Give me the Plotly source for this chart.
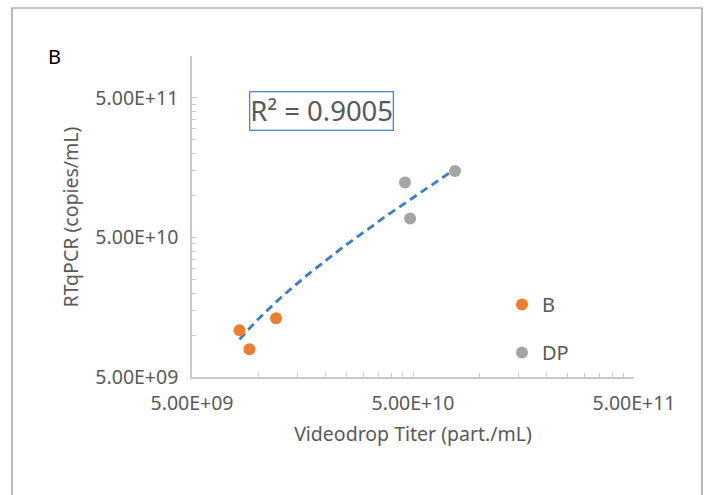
import numpy as np
import plotly.graph_objects as go

# ---- data ----
b_x = [8.2e9, 9.1e9, 1.2e10]
b_y = [1.08e10, 7.9e9, 1.32e10]
dp_x = [4.6e10, 4.85e10, 7.75e10]
dp_y = [1.24e11, 6.85e10, 1.5e11]

x_ticks = [5e9, 5e10, 5e11]
x_tick_labels = ["5.00E+09", "5.00E+10", "5.00E+11"]
y_ticks = [5e9, 5e10, 5e11]
y_tick_labels = ["5.00E+09", "5.00E+10", "5.00E+11"]
x_title = "Videodrop Titer (part./mL)"
y_title = "RTqPCR (copies/mL)"
r2_label = "R² = 0.9005"
panel_label = "B"

# ---- linear trendline (as Excel) over all points ----
all_x = np.array(b_x + dp_x)
all_y = np.array(b_y + dp_y)
slope, intercept = np.polyfit(all_x, all_y, 1)
fit_x = np.logspace(np.log10(all_x.min()), np.log10(all_x.max()), 80)
fit_y = slope * fit_x + intercept

minor_x = [5e9 * k * 10 ** n for n in range(2) for k in range(2, 10)]
minor_y = [5e9 * k * 10 ** n for n in range(2) for k in range(2, 10)] + [1e12]

GREY_TXT = "#595959"
AXIS = "#c9c9c9"
FONT = "Noto Sans"

fig = go.Figure()
fig.add_trace(go.Scatter(
    x=fit_x, y=fit_y, mode="lines", showlegend=False, hoverinfo="skip",
    line=dict(color="#3b7bc8", width=2.8, dash="8px,5px"),
))
fig.add_trace(go.Scatter(
    x=b_x, y=b_y, mode="markers", name="B", legendgroup="b",
    marker=dict(color="#ED7D31", size=12, line=dict(width=0)),
))
fig.add_trace(go.Scatter(
    x=dp_x, y=dp_y, mode="markers", name="DP", legendgroup="dp",
    marker=dict(color="#A5A5A5", size=12, line=dict(width=0)),
))

axis_common = dict(
    type="log",
    showgrid=False, zeroline=False,
    showline=True, linecolor=AXIS, linewidth=1.5,
    ticks="inside", ticklen=5, tickcolor=AXIS, tickwidth=1.2,
    tickmode="array",
    tickfont=dict(family=FONT, size=19.5, color=GREY_TXT),
    ticklabelstandoff=8,
)

fig.update_xaxes(
    **axis_common,
    range=[np.log10(5e9), np.log10(5e11)],
    tickvals=x_ticks, ticktext=x_tick_labels,
    minor=dict(tickmode="array", tickvals=minor_x, ticks="inside",
               ticklen=4, tickcolor=AXIS, tickwidth=1.2),
    title=dict(text=x_title,
               font=dict(family=FONT, size=19.5, color=GREY_TXT), standoff=12),
)
fig.update_yaxes(
    **axis_common,
    range=[np.log10(5e9), np.log10(1e12)],
    tickvals=y_ticks, ticktext=y_tick_labels,
    minor=dict(tickmode="array", tickvals=minor_y, ticks="inside",
               ticklen=4, tickcolor=AXIS, tickwidth=1.2),
)

fig.add_annotation(
    text=y_title, xref="paper", yref="paper", x=(70 - 192) / 442, y=0.5,
    xanchor="center", yanchor="middle", textangle=-90, showarrow=False,
    font=dict(family=FONT, size=19.5, color=GREY_TXT),
)
fig.add_annotation(
    text=r2_label, xref="paper", yref="paper", x=(249 - 192) / 442, y=(377 - 91) / 321,
    xanchor="left", yanchor="top", showarrow=False,
    font=dict(family=FONT, size=27.5, color=GREY_TXT),
    bordercolor="#4a86c8", borderwidth=1.3, borderpad=0, bgcolor="white",
)
fig.add_annotation(
    text=panel_label, xref="paper", yref="paper", x=(46 - 192) / 442, y=(377 - 41) / 321,
    xanchor="left", yanchor="top", showarrow=False,
    font=dict(family=FONT, size=20, color="#000000"),
)
fig.add_shape(
    type="rect", xref="paper", yref="paper",
    x0=(12 - 192) / 442, x1=(702 - 192) / 442,
    y0=(377 - 520) / 321, y1=(377 - 8) / 321,
    line=dict(color="#8c8c8c", width=1.2), fillcolor="rgba(0,0,0,0)", layer="below",
)

fig.update_layout(
    width=705, height=495,
    margin=dict(l=192, r=71, t=56, b=118, autoexpand=False),
    paper_bgcolor="white", plot_bgcolor="white",
    font=dict(family=FONT, color=GREY_TXT),
    legend=dict(
        x=(502 - 192) / 442, y=(377 - 285) / 321, xanchor="left", yanchor="top",
        font=dict(family=FONT, size=20, color=GREY_TXT),
        bgcolor="rgba(0,0,0,0)", tracegroupgap=19, itemsizing="trace",
    ),
)

fig.write_html("out.html")
